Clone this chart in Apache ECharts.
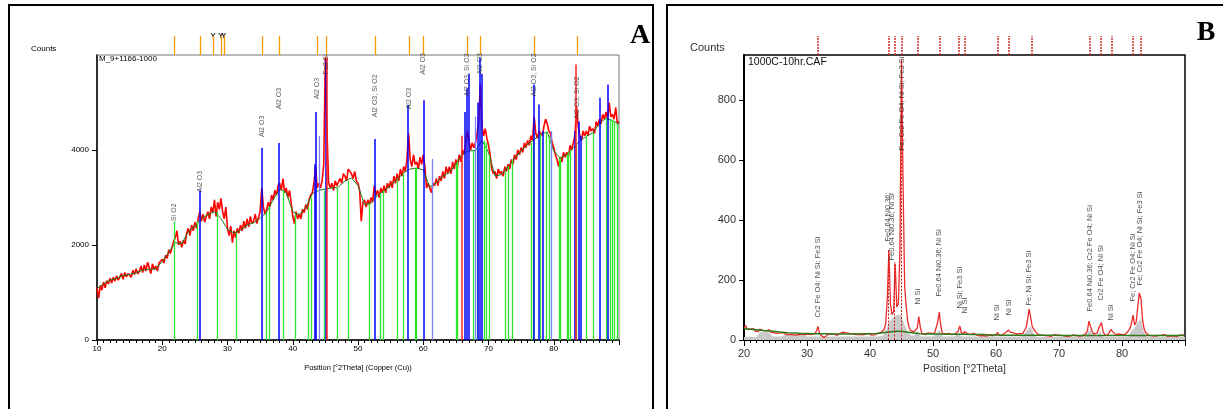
<!DOCTYPE html>
<html><head><meta charset="utf-8">
<script src="https://cdn.jsdelivr.net/npm/echarts@6/dist/echarts.min.js"></script>
<style>html,body{margin:0;padding:0;background:#fff}#c{width:1223px;height:409px}</style>
</head><body><div id="c"></div>
<script>
// ---------------- Panel A data ----------------
const A_START = 10, A_STEP = 0.25;
const aCounts = [
1100,880,1150,1050, 1220,1100,1250,1180, 1300,1200,1320,1240, 1350,1260,1330,1400,
1280,1420,1330,1400, 1440,1320,1470,1380, 1500,1390,1450,1560, 1420,1580,1450,1640,
1520,1400,1600,1480, 1560,1450,1620,1580, 1700,1620,1780,1720, 1900,1820,1950,2080,
2150,2300,2000,2080, 1950,2100,2020,2250, 2350,2200,2420,2300, 2480,2350,2550,2700,
2500,2650,2480,2600, 2700,2550,2800,2680, 2950,2600,2900,2750, 2980,2700,2550,2800,
2350,2200,2400,2050, 2300,2150,2350,2250, 2420,2300,2500,2350, 2550,2380,2600,2450,
2500,2650,2450,2580, 2700,3200,2800,2650, 2750,2900,2800,3050, 2950,3150,3050,3250,
3300,3150,3400,3100, 3200,3000,3150,2900, 2600,2450,2700,2550, 2650,2550,2750,2680,
2850,2750,2950,3050, 3100,3300,3650,3200, 3300,3200,3350,3700, 5950,4400,3300,3200,
3300,3150,3350,3250, 3250,3400,3300,3500, 3450,3350,3600,3550, 3500,3400,3550,3350,
3300,3150,2500,2900, 2950,2800,2950,2850, 3000,2900,3250,3050, 3150,3000,3200,3100,
3250,3100,3300,3200, 3350,3200,3450,3300, 3500,3350,3600,3450, 3650,3550,3800,4350,
3800,3650,3900,3700, 3750,3600,3850,3700, 3900,3650,3200,3300, 3200,3100,3300,3250,
3400,3250,3450,3350, 3550,3400,3650,3500, 3650,3500,3750,3600, 3800,3650,3900,3750,
4000,3900,4150,4400, 4200,4000,4150,4050, 4150,4350,4600,5380, 4500,4300,4450,4250,
4100,3900,3600,3500, 3550,3400,3600,3500, 3550,3450,3650,3550, 3700,3600,3800,3700,
3900,3800,4000,3900, 4050,3950,4150,4050, 4200,4100,4300,4200, 4700,4350,4250,4400,
4400,4300,4500,4650, 4550,4400,4350,4150, 4050,3900,3800,3650, 3850,3750,3950,3850,
3950,3850,4100,4000, 4150,4300,4900,4500, 4300,4200,4400,4300, 4400,4300,4500,4400,
4450,4350,4600,4500, 4650,4550,4750,4650, 4800,4650,5000,4700, 4750,4650,4900,4550,
4600];
const A_BG_START = 10, A_BG_STEP = 1;
const aBackground = [1080,1180,1260,1300,1360,1380,1420,1470,1490,1500,
1650,1850,2050,2030,2280,2400,2560,2640,2700,2560,
2330,2250,2310,2420,2470,2560,2700,2950,3180,3100,
2700,2640,2790,3080,3150,3180,3200,3220,3350,3410,
3250,2850,2880,3050,3140,3250,3380,3520,3600,3620,
3580,3220,3310,3450,3530,3700,3920,3980,3990,4200,
3950,3450,3480,3650,3830,3980,4120,4220,4330,4380,
3980,3830,3900,4050,4190,4290,4360,4560,4670,4620,4540];
const aGreenPos = [21.8,25.4,28.4,31.4,36.0,36.4,38.5,40.4,42.4,42.8,44.8,46.8,48.5,51.8,53.4,53.9,56.0,56.9,58.7,59.0,65.0,65.2,67.7,68.3,69.3,69.6,70.1,72.6,73.0,73.7,76.5,76.9,78.0,78.9,79.3,80.8,81.0,82.0,82.2,82.6,83.4,85.0,86.0,88.0,88.6,88.9,89.2,89.7];
const aGreenH   = [2500,2500,2700,2250,2700,2800,3150,2650,2800,3000,3150,3200,3350,2870,3080,3140,3380,3500,3600,3620,3700,3750,3980,4000,4200,4150,3900,3550,3650,3800,4150,4200,4330,4380,4300,3830,3830,3900,3950,4000,4100,4290,4360,4670,4650,4630,4600,4550];
const aBluePos = [25.8,35.3,37.8,43.3,43.6,45.0,52.6,57.7,60.1,66.4,66.7,66.9,68.3,68.6,68.9,77.0,77.7,78.3,83.2,83.8,84.2,87.0,88.3];
const aBlueH   = [3150,4050,4150,3700,4800,5900,4230,4950,5050,4800,5300,5600,5000,5950,5600,5380,4960,4400,4400,4600,4300,5100,5380];
const aLightBluePos = [44.0,61.4,68.0,79.6];
const aLightBlueH   = [4300,3810,4700,4400];
const aRedStickPos = [45.2,65.9,83.4];
const aRedStickH   = [5950,4300,5800];
const aRefTicks = [21.8,25.8,27.8,29.0,29.5,35.3,37.9,43.7,45.1,52.6,57.8,60.0,66.7,68.7,77.0,83.6];
const aRefMarks = [27.8,29.0,29.4];
const aLabelPos  = [21.8,25.8,35.3,37.9,43.7,45.1,52.6,57.8,60.0,66.7,68.7,77.0,83.6];
const aLabelBase = [2475,3080,4240,4825,5035,5560,4660,4825,5560,5100,5560,5100,4615];
const aLabelText = ['Si O2','Al2 O3','Al2 O3','Al2 O3','Al2 O3','Fe3 Si','Al2 O3; Si O2','Al2 O3','Al2 O3','Al2 O3; Si O2','Al2 O3','Al2 O3; Si O2','Al2 O3; Si O2'];

// ---------------- Panel B data ----------------
const B_START = 20, B_STEP = 0.25;
const bCounts = [
40,48,35,38, 36,32,38,30, 34,28,36,30, 32,38,30,28, 35,26,30,24,
28,22,27,24, 20,25,22,18, 22,19,24,18, 20,16,22,18, 17,20,15,18,
16,20,14,18, 16,22,30,45, 22,15,12,8, 14,18,15,19, 16,20,17,15,
19,22,18,26, 20,24,19,22, 17,21,24,18, 22,19,24,17, 15,19,17,22,
20,16,19,17, 18,22,20,25, 28,35,55,140, 300,120,85,95, 255,110,120,300,
935,520,180,110, 60,40,30,25, 28,22,40,78, 40,22,25,18, 20,24,18,22,
19,22,28,60, 93,45,22,18, 20,15,22,17, 18,14,20,16, 30,47,25,18,
28,22,20,16, 19,15,22,18, 16,19,14,18, 15,18,13,17, 16,20,15,14,
18,25,16,14, 17,20,24,22, 33,26,22,24, 22,20,24,21, 25,22,28,40,
65,103,75,45, 35,28,22,18, 20,16,19,15, 18,14,17,12, 15,18,13,16,
12,16,10,14, 15,12,16,13, 14,17,12,15, 16,13,17,14, 18,22,30,63,
45,30,20,18, 22,28,48,58, 28,18,22,17, 20,35,28,22, 18,15,20,16,
18,22,19,25, 30,38,55,83, 50,60,110,157, 140,70,38,25, 20,16,22,14,
18,13,17,15, 12,16,14,18, 15,12,17,14, 16,13,18,12, 14,17,12,16,
15];
const B_BG_START = 20, B_BG_STEP = 1;
const bBackground = [38,36,34,32,30,28,26,24,23,22,
22,21,21,21,20,20,20,20,20,21,
21,22,24,27,29,29,26,23,21,20,
20,20,19,19,19,19,18,18,18,17,
17,16,16,16,16,16,16,16,16,16,
15,15,15,15,15,15,15,15,15,15,
15,15,15,15,15,15,15,15,15,15,15];
const B_FIT_START = 20, B_FIT_STEP = 0.5;
const bFit = [
10,10, 10,10, 10,26, 26,26, 26,12,   // 20-24.5
12,12, 12,18, 18,18, 18,18, 18,18,   // 25-29.5
12,12, 12,12, 12,12, 12,12, 12,12,   // 30-34.5
12,12, 12,12, 12,12, 12,12, 12,12,   // 35-39.5
12,12, 12,12, 14,30, 60,70, 80,85,   // 40-44.5
80,50, 25,15, 15,30, 12,12, 12,12,   // 45-49.5
12,20, 35,12, 12,12, 12,12, 25,12,   // 50-54.5
12,12, 12,12, 12,12, 12,12, 12,12,   // 55-59.5
12,12, 12,12, 12,12, 12,12, 12,20,   // 60-64.5
35,45, 20,10, 10,10, 10,10, 10,10,   // 65-69.5
10,10, 10,10, 10,10, 10,10, 10,25,   // 70-74.5
35,12, 12,30, 10,10, 10,10, 10,10,   // 75-79.5
10,10, 10,30, 40,60, 70,25, 10,10,   // 80-84.5
10,10, 10,10, 10,10, 10,10, 10,10,   // 85-89.5
10];
const bStickPos = [42.9,43.8,45.0];
const bStickH   = [300,260,935];
const bRefTicks = [31.7,43.0,44.0,45.1,47.6,51.0,54.1,55.1,60.3,62.1,65.6,74.9,76.7,78.3,81.7,83.0];
const bLabelPos  = [31.7,42.8,43.5,45.0,47.6,51.0,54.2,55.1,60.2,62.0,65.3,74.9,76.7,78.3,81.7,82.9];
const bLabelBase = [70,323,260,627,113,140,100,83,60,77,110,90,127,60,123,177];
const bLabelText = ['Cr2 Fe O4; Ni Si; Fe3 Si','Fe0.64 Ni0.36;','Fe0.64 Ni0.36; Ni Si','Fe; Cr2 Fe O4; Ni Si; Fe3 Si','Ni Si','Fe0.64 Ni0.36; Ni Si','Ni Si; Fe3 Si','Ni Si','Ni Si','Ni Si','Fe; Ni Si; Fe3 Si','Fe0.64 Ni0.36; Cr2 Fe O4; Ni Si','Cr2 Fe O4; Ni Si','Ni Si','Fe; Cr2 Fe O4; Ni Si','Fe; Cr2 Fe O4; Ni Si; Fe3 Si'];

// ---------------- build ----------------
const FF = 'Liberation Sans, Arial, sans-serif';
const plain = v => String(v);
const seq = (arr, s, st) => arr.map((v, i) => [s + i * st, v]);
const sticks = (pos, h) => pos.map((p, i) => [{coord: [p, 0]}, {coord: [p, h[i]]}]);
function stickSeries(xi, yi, pos, h, color, width, type, z) {
  return {type: 'line', xAxisIndex: xi, yAxisIndex: yi, data: [], z: z, silent: true,
    markLine: {silent: true, animation: false, symbol: ['none', 'none'], label: {show: false},
      lineStyle: {color: color, width: width, type: type || 'solid'}, emphasis: {disabled: true},
      data: sticks(pos, h)}};
}
function tickSeries(xi, yi, pos, color, width, type) {
  return {type: 'line', xAxisIndex: xi, yAxisIndex: yi, data: [], silent: true,
    markLine: {silent: true, animation: false, symbol: ['none', 'none'], label: {show: false},
      lineStyle: {color: color, width: width, type: type || 'solid'}, emphasis: {disabled: true},
      data: pos.map(p => ({xAxis: p}))}};
}
function labelSeries(xi, yi, pos, base, text, size, color) {
  return {type: 'scatter', xAxisIndex: xi, yAxisIndex: yi, symbolSize: 1, z: 20, silent: true,
    itemStyle: {color: 'rgba(0,0,0,0)'},
    label: {show: true, position: 'top', distance: 1, rotate: 90, align: 'left', verticalAlign: 'middle',
      fontSize: size, color: color, fontFamily: FF, formatter: '{b}'},
    data: pos.map((p, i) => ({name: text[i], value: [p, base[i]]}))};
}

const option = {
  animation: false,
  backgroundColor: '#fff',
  grid: [
    {left: 97, top: 55, width: 522, height: 285, show: true, borderColor: '#777', borderWidth: 1, outerBoundsMode: 'none'},
    {left: 97, top: 36, width: 522, height: 19, show: false, outerBoundsMode: 'none'},
    {left: 744, top: 55, width: 441, height: 285, show: true, borderColor: '#000', borderWidth: 1.5, outerBoundsMode: 'none'},
    {left: 744, top: 36, width: 441, height: 19, show: false, outerBoundsMode: 'none'}
  ],
  xAxis: [
    {gridIndex: 0, type: 'value', min: 10, max: 90, interval: 10,
      axisLine: {lineStyle: {color: '#000', width: 1.5}},
      axisTick: {length: 5, lineStyle: {color: '#000'}},
      minorTick: {show: true, splitNumber: 10, length: 3, lineStyle: {color: '#000'}},
      axisLabel: {fontSize: 8, color: '#000', margin: 5, fontFamily: FF, showMaxLabel: false, formatter: plain},
      splitLine: {show: false},
      name: 'Position [°2Theta] (Copper (Cu))', nameLocation: 'middle', nameGap: 24,
      nameTextStyle: {fontSize: 7.5, color: '#000', fontFamily: FF}},
    {gridIndex: 1, type: 'value', min: 10, max: 90, show: false},
    {gridIndex: 2, type: 'value', min: 20, max: 90, interval: 10,
      axisLine: {lineStyle: {color: '#000', width: 2}},
      axisTick: {length: 6, lineStyle: {color: '#000'}},
      minorTick: {show: true, splitNumber: 10, length: 3, lineStyle: {color: '#000'}},
      axisLabel: {fontSize: 11, color: '#333', margin: 8, fontFamily: FF, showMaxLabel: false, formatter: plain},
      splitLine: {show: false},
      name: 'Position [°2Theta]', nameLocation: 'middle', nameGap: 24,
      nameTextStyle: {fontSize: 10.5, color: '#333', fontFamily: FF}},
    {gridIndex: 3, type: 'value', min: 20, max: 90, show: false}
  ],
  yAxis: [
    {gridIndex: 0, type: 'value', min: 0, max: 6000, interval: 2000,
      axisLine: {show: true, lineStyle: {color: '#000', width: 1.5}},
      axisTick: {show: true, length: 5, lineStyle: {color: '#000'}},
      axisLabel: {fontSize: 8, color: '#000', margin: 8, fontFamily: FF, showMaxLabel: false, formatter: plain},
      splitLine: {show: false}},
    {gridIndex: 1, type: 'value', min: 0, max: 1, show: false},
    {gridIndex: 2, type: 'value', min: 0, max: 950, interval: 200,
      axisLine: {show: true, lineStyle: {color: '#000', width: 2}},
      axisTick: {show: true, length: 5, lineStyle: {color: '#000'}},
      axisLabel: {fontSize: 11, color: '#333', margin: 8, fontFamily: FF, showMaxLabel: false, formatter: plain},
      splitLine: {show: false}},
    {gridIndex: 3, type: 'value', min: 0, max: 1, show: false}
  ],
  series: [
    // Panel A
    stickSeries(0, 0, aGreenPos, aGreenH, '#2ee62e', 1.3, 'solid', 2),
    {type: 'line', xAxisIndex: 0, yAxisIndex: 0, data: seq(aCounts, A_START, A_STEP), showSymbol: false, silent: true, z: 3,
      lineStyle: {color: '#ff0000', width: 1.6}},
    {type: 'line', xAxisIndex: 0, yAxisIndex: 0, data: seq(aBackground, A_BG_START, A_BG_STEP), showSymbol: false, silent: true, z: 4,
      lineStyle: {color: '#1e7a1e', width: 1}},
    stickSeries(0, 0, aLightBluePos, aLightBlueH, '#8080ff', 1.3, 'solid', 5),
    stickSeries(0, 0, aBluePos, aBlueH, '#0000ff', 1.5, 'solid', 6),
    stickSeries(0, 0, aRedStickPos, aRedStickH, '#ff2020', 1.5, 'solid', 6),
    labelSeries(0, 0, aLabelPos, aLabelBase, aLabelText, 7, '#333'),
    tickSeries(1, 1, aRefTicks, '#ff9900', 1.3),
    {type: 'scatter', xAxisIndex: 1, yAxisIndex: 1, symbolSize: 1, silent: true, itemStyle: {color: 'rgba(0,0,0,0)'},
      label: {show: true, position: 'top', distance: -4, formatter: 'Y', fontSize: 8, fontWeight: 'bold', color: '#000', fontFamily: FF},
      data: aRefMarks.map(p => [p, 1])},
    // Panel B
    {type: 'line', xAxisIndex: 2, yAxisIndex: 2, data: seq(bFit, B_FIT_START, B_FIT_STEP), showSymbol: false, silent: true, z: 1,
      lineStyle: {width: 0}, areaStyle: {color: '#c9c9c9', opacity: 1}},
    {type: 'line', xAxisIndex: 2, yAxisIndex: 2, data: seq(bCounts, B_START, B_STEP), showSymbol: false, silent: true, z: 3,
      lineStyle: {color: '#ec2a2a', width: 1.3}},
    {type: 'line', xAxisIndex: 2, yAxisIndex: 2, data: seq(bBackground, B_BG_START, B_BG_STEP), showSymbol: false, silent: true, z: 4,
      lineStyle: {color: '#2d7a1a', width: 1.5}},
    stickSeries(2, 2, bStickPos, bStickH, '#cc2020', 1, [2, 1.5], 5),
    labelSeries(2, 2, bLabelPos, bLabelBase, bLabelText, 7.5, '#222'),
    tickSeries(3, 3, bRefTicks, '#d42a2a', 1.5, [2, 1])
  ],
  graphic: [
    {type: 'rect', z: -1, shape: {x: 9, y: 5, width: 644, height: 430}, style: {fill: 'none', stroke: '#000', lineWidth: 2}},
    {type: 'rect', z: -1, shape: {x: 667, y: 5, width: 600, height: 430}, style: {fill: 'none', stroke: '#000', lineWidth: 2}},
    {type: 'text', x: 640, y: 36, style: {text: 'A', font: 'bold 28px "Liberation Serif", "DejaVu Serif", serif', fill: '#000', align: 'center', verticalAlign: 'middle'}},
    {type: 'text', x: 1206, y: 33, style: {text: 'B', font: 'bold 28px "Liberation Serif", "DejaVu Serif", serif', fill: '#000', align: 'center', verticalAlign: 'middle'}},
    {type: 'text', x: 31, y: 49, style: {text: 'Counts', font: '8px "Liberation Sans", Arial, sans-serif', fill: '#000', verticalAlign: 'middle'}},
    {type: 'text', x: 99, y: 59, style: {text: 'M_9+1166-1000', font: '8px "Liberation Sans", Arial, sans-serif', fill: '#000', verticalAlign: 'middle'}},
    {type: 'text', x: 690, y: 48, style: {text: 'Counts', font: '11px "Liberation Sans", Arial, sans-serif', fill: '#333', verticalAlign: 'middle'}},
    {type: 'text', x: 748, y: 62, style: {text: '1000C-10hr.CAF', font: '10.5px "Liberation Sans", Arial, sans-serif', fill: '#111', verticalAlign: 'middle'}}
  ]
};
const chart = echarts.init(document.getElementById('c'), null, {renderer: 'canvas'});
chart.setOption(option);
</script></body></html>
